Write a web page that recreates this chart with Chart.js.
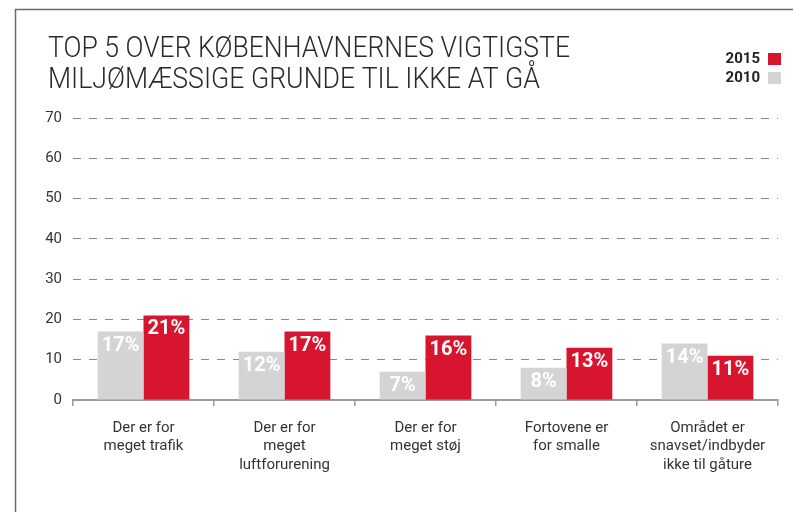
<!DOCTYPE html>
<html lang="da">
<head>
  <meta charset="UTF-8">
  <title>Top 5</title>
  <style>
    body { margin: 0; background: #fff; }
    #wrap { width: 793px; height: 512px; }
  </style>
</head>
<body>
  <div id="wrap"><canvas id="chart" width="793" height="512"></canvas></div>
  <script src="https://cdn.jsdelivr.net/npm/chart.js@4/dist/chart.umd.min.js"></script>
  <script>
    const categories = [
      ['Der er for', 'meget trafik'],
      ['Der er for', 'meget', 'luftforurening'],
      ['Der er for', 'meget støj'],
      ['Fortovene er', 'for smalle'],
      ['Området er', 'snavset/indbyder', 'ikke til gåture']
    ]
    const values2010 = [17, 12, 7, 8, 14]
    const values2015 = [21, 17, 16, 13, 11]
    const titleLines = ['TOP 5 OVER KØBENHAVNERNES VIGTIGSTE', 'MILJØMÆSSIGE GRUNDE TIL IKKE AT GÅ']

    const RED = '#d7152f'
    const GREY = '#d4d4d4'

    // ramme, titel og legende
    const decor = {
      id: 'decor',
      beforeDraw(chart) {
        const c = chart.ctx
        c.save()
        c.strokeStyle = '#6b6b6b'
        c.lineWidth = 1.5
        c.beginPath()
        c.moveTo(15.5, 512)
        c.lineTo(15.5, 9.5)
        c.lineTo(793, 9.5)
        c.stroke()

        c.fillStyle = '#2a2a2a'
        c.textBaseline = 'alphabetic'
        c.font = '300 30px Roboto'
        const targets = [522, 492]
        titleLines.forEach((t, i) => {
          const w = c.measureText(t).width
          c.save()
          c.translate(48, 57 + i * 31)
          c.scale(targets[i] / w, 1)
          c.fillText(t, 0, 0)
          c.restore()
        })

        c.font = 'bold 15px Roboto'
        c.textAlign = 'right'
        c.textBaseline = 'middle'
        c.fillStyle = '#222'
        c.fillText('2015', 760, 59)
        c.fillText('2010', 760, 78)
        c.fillStyle = RED
        c.fillRect(768, 53, 13, 12)
        c.fillStyle = GREY
        c.fillRect(768, 72, 13, 12)
        c.restore()
      }
    }

    // procent-tal i søjlerne
    const barLabels = {
      id: 'barLabels',
      afterDatasetsDraw(chart) {
        const c = chart.ctx
        c.save()
        c.font = 'bold 20px Roboto'
        c.fillStyle = '#fff'
        c.textAlign = 'center'
        c.textBaseline = 'middle'
        chart.data.datasets.forEach((ds, di) => {
          chart.getDatasetMeta(di).data.forEach((bar, i) => {
            c.fillText(ds.data[i] + '%', bar.x, bar.y + 14)
          })
        })
        c.restore()
      }
    }

    new Chart(document.getElementById('chart'), {
      type: 'bar',
      data: {
        labels: categories,
        datasets: [
          { label: '2010', data: values2010, backgroundColor: GREY },
          { label: '2015', data: values2015, backgroundColor: RED }
        ]
      },
      options: {
        responsive: false,
        animation: false,
        layout: { padding: { top: 118, right: 15, left: 0, bottom: 0 } },
        plugins: { legend: { display: false }, title: { display: false }, tooltip: { enabled: false } },
        datasets: { bar: { barPercentage: 1, categoryPercentage: 0.65 } },
        scales: {
          x: {
            afterFit(scale) { scale.height = 112 },
            grid: { display: true, drawOnChartArea: false, offset: true, tickLength: 6, color: '#9a9a9a', lineWidth: 1.5 },
            border: { display: true, color: '#9a9a9a', width: 2 },
            ticks: { color: '#333', font: { family: 'Roboto', size: 15, lineHeight: 1.22 }, padding: 13, maxRotation: 0 }
          },
          y: {
            min: 0,
            max: 70,
            afterFit(scale) { scale.width = 73 },
            border: { display: false, dash: [8, 8] },
            grid: {
              drawTicks: false,
              color: ctx => ctx.tick && ctx.tick.value === 0 ? 'rgba(0,0,0,0)' : '#8a8a8a',
              lineWidth: 1
            },
            ticks: { stepSize: 10, color: '#333', font: { family: 'Roboto', size: 15 }, padding: 11 }
          }
        }
      },
      plugins: [decor, barLabels]
    })
  </script>
</body>
</html>
